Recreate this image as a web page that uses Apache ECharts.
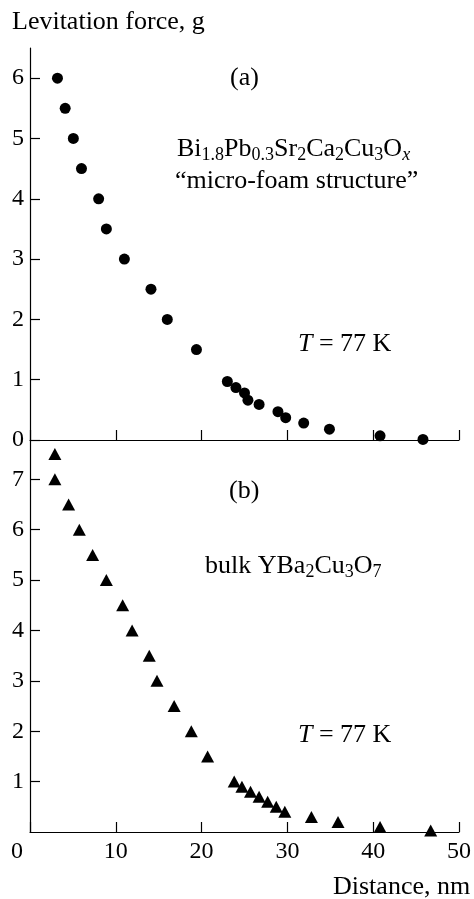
<!DOCTYPE html>
<html>
<head>
<meta charset="utf-8">
<script src="https://cdn.jsdelivr.net/npm/echarts@6/dist/echarts.min.js"></script>
<style>
  html, body { margin: 0; padding: 0; background: #fff; }
  #chart { width: 474px; height: 899px; }
</style>
</head>
<body>
<div id="chart"></div>
<script>
// (a) Bi-2223 micro-foam: distance (nm) and levitation force (g)
const distA = [3.2, 4.1, 5.05, 6.0, 8.0, 8.9, 11.0, 14.1, 16.0, 19.4, 23.0, 24.0, 25.0, 25.4, 26.7, 28.9, 29.8, 31.9, 34.9, 40.8, 45.8];
const forceA = [6.0, 5.5, 5.0, 4.5, 4.0, 3.5, 3.0, 2.5, 2.0, 1.5, 0.97, 0.87, 0.78, 0.66, 0.59, 0.47, 0.37, 0.28, 0.18, 0.07, 0.01];
// (b) bulk YBa2Cu3O7
const distB = [2.9, 2.9, 4.5, 5.75, 7.3, 8.9, 10.8, 11.9, 13.9, 14.8, 16.8, 18.8, 20.7, 23.8, 24.7, 25.7, 26.7, 27.7, 28.7, 29.7, 32.8, 35.9, 40.8, 46.7];
const forceB = [7.5, 7.0, 6.5, 6.0, 5.5, 5.0, 4.5, 4.0, 3.5, 3.0, 2.5, 2.0, 1.5, 1.0, 0.9, 0.8, 0.7, 0.6, 0.5, 0.4, 0.3, 0.2, 0.1, 0.03];
const xTicks = [0, 10, 20, 30, 40, 50];
const yTicksA = [0, 1, 2, 3, 4, 5, 6];
const yTicksB = [1, 2, 3, 4, 5, 6, 7];

const font = 'Liberation Serif';
const fs = 26;     // annotation text
const tickFs = 24; // tick labels

function zip(xs, ys) {
  return xs.map((x, i) => [x, ys[i]]);
}

function xAxis(gridIndex, showLabels) {
  return {
    type: 'value', gridIndex: gridIndex, min: 0, max: 50, interval: 10,
    axisLine: { lineStyle: { color: '#000', width: 1.2 } },
    axisTick: { inside: true, length: 10, lineStyle: { color: '#000', width: 1.2 }, customValues: xTicks },
    axisLabel: {
      show: showLabels, color: '#000', fontFamily: font, fontSize: tickFs, margin: 8,
      customValues: xTicks,
      formatter: v => v === 0 ? '{z|0}' : String(v),
      rich: { z: { fontFamily: font, fontSize: tickFs, color: '#000', padding: [0, 26, 0, 0] } }
    },
    splitLine: { show: false }
  };
}

function yAxis(gridIndex, max, ticks) {
  return {
    type: 'value', gridIndex: gridIndex, min: 0, max: max,
    axisLine: { show: true, lineStyle: { color: '#000', width: 1.2 } },
    axisTick: { show: true, inside: true, length: 10, lineStyle: { color: '#000', width: 1.2 }, customValues: ticks },
    axisLabel: { color: '#000', fontFamily: font, fontSize: tickFs, margin: 6, customValues: ticks },
    splitLine: { show: false }
  };
}

function txt(left, top, text, extra) {
  return Object.assign({
    type: 'text', left: left, top: top,
    style: { text: text, fontFamily: font, fontSize: fs, fill: '#000' }
  }, extra || {});
}

const sub = { fontFamily: font, fontSize: 18, fill: '#000', padding: [12, 0, 0, 0] };
const base = { fontFamily: font, fontSize: fs, fill: '#000' };

const chart = echarts.init(document.getElementById('chart'));
chart.setOption({
  backgroundColor: '#fff',
  animation: false,
  grid: [
    { left: 30, top: 48, width: 429, height: 392 },
    { left: 30, top: 440, width: 429, height: 392 }
  ],
  xAxis: [xAxis(0, false), xAxis(1, true)],
  yAxis: [yAxis(0, 6.5, yTicksA), yAxis(1, 7.78, yTicksB)],
  series: [
    {
      type: 'scatter', xAxisIndex: 0, yAxisIndex: 0, data: zip(distA, forceA),
      symbol: 'circle', symbolSize: 11, itemStyle: { color: '#000', opacity: 1 }
    },
    {
      type: 'scatter', xAxisIndex: 1, yAxisIndex: 1, data: zip(distB, forceB),
      symbol: 'triangle', symbolSize: [13, 12], itemStyle: { color: '#000', opacity: 1 }
    }
  ],
  graphic: [
    txt(12, 9, 'Levitation force, g'),
    txt(230, 65, '(a)'),
    {
      type: 'text', left: 177, top: 136,
      style: {
        text: 'Bi{s|1.8}Pb{s|0.3}Sr{s|2}Ca{s|2}Cu{s|3}O{si|x}',
        fontFamily: font, fontSize: fs, fill: '#000',
        rich: { s: sub, si: Object.assign({}, sub, { fontStyle: 'italic' }) }
      }
    },
    txt(175, 168, '\u201cmicro-foam structure\u201d'),
    {
      type: 'text', left: 298, top: 331,
      style: { text: '{i|T} = 77 K', fontFamily: font, fontSize: fs, fill: '#000', rich: { i: Object.assign({}, base, { fontStyle: 'italic' }) } }
    },
    txt(229, 478, '(b)'),
    {
      type: 'text', left: 205, top: 553,
      style: {
        text: 'bulk YBa{s|2}Cu{s|3}O{s|7}',
        fontFamily: font, fontSize: fs, fill: '#000',
        rich: { s: sub }
      }
    },
    {
      type: 'text', left: 298, top: 722,
      style: { text: '{i|T} = 77 K', fontFamily: font, fontSize: fs, fill: '#000', rich: { i: Object.assign({}, base, { fontStyle: 'italic' }) } }
    },
    txt(333, 874, 'Distance, nm')
  ]
});
</script>
</body>
</html>
